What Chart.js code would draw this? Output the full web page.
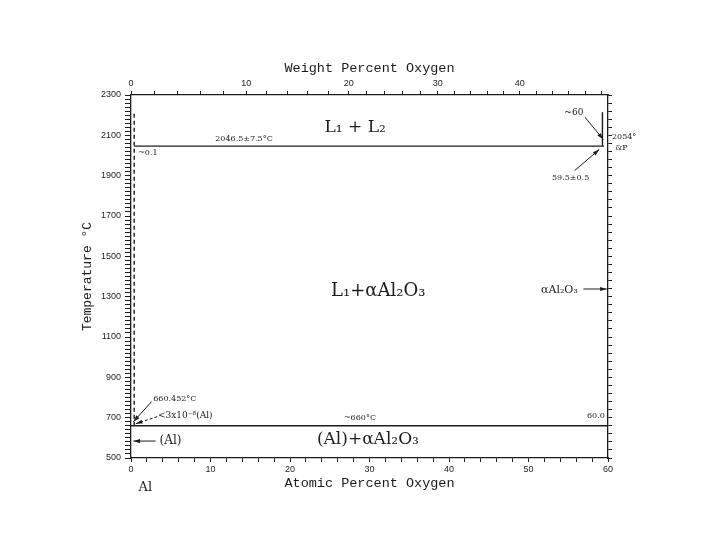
<!DOCTYPE html>
<html>
<head>
<meta charset="utf-8">
<script src="https://cdn.jsdelivr.net/npm/chart.js@4.4.0/dist/chart.umd.min.js"></script>
<style>
  html, body { margin: 0; padding: 0; background: #fff; }
  #wrap { width: 720px; height: 540px; }
</style>
</head>
<body>
<div id="wrap"><canvas id="phaseChart" width="720" height="540"></canvas></div>
<script>
// axis ticks
const atomicTicks = [0, 10, 20, 30, 40, 50, 60];
const tempTicks = [500, 700, 900, 1100, 1300, 1500, 1700, 1900, 2100, 2300];
const wtTickLabels = ['0', '10', '20', '30', '40'];
const wtTickAtPct = [0, 14.5, 27.4, 38.6, 48.9];   // where the wt% ticks sit on the at% scale

// phase boundaries (at% O, °C)
const monotecticX = [0.4, 59.5];
const monotecticT = [2046.5, 2046.5];
const eutecticX = [0, 60];
const eutecticT = [660, 660];
const solubilityX = [0.4, 0.4];
const solubilityT = [660, 2215];
const l2BoundaryX = [59.3, 59.3];
const l2BoundaryT = [2046.5, 2215];
const aluminaX = [60, 60];
const aluminaT = [500, 2054];

const INK = '#1c1c1c';
const SERIF = '"DejaVu Serif", "Liberation Serif", serif';
const MONO = '"Liberation Mono", "DejaVu Sans Mono", monospace';
const TICKFONT = { family: '"Liberation Sans", sans-serif', size: 9 };

function pts(xs, ts) {
  return xs.map((v, i) => ({ x: v, y: ts[i] }));
}

function lineSet(label, xs, ts, dash) {
  return {
    label: label,
    data: pts(xs, ts),
    showLine: true,
    borderColor: INK,
    borderWidth: 1.4,
    borderDash: dash || [],
    pointRadius: 0,
    fill: false
  };
}

// minor ticks between majors
function withMinors(majors, parts, extendTo) {
  const out = [];
  for (let i = 0; i < majors.length; i++) {
    out.push(majors[i]);
    let next = majors[i + 1];
    let step;
    if (next === undefined) {
      if (extendTo === undefined) break;
      step = (majors[i] - majors[i - 1]) / parts;
      for (let v = majors[i] + step; v <= extendTo + 1e-6; v += step) out.push(v);
      break;
    }
    step = (next - majors[i]) / parts;
    for (let k = 1; k < parts; k++) out.push(majors[i] + k * step);
  }
  return out;
}

const annotations = {
  id: 'annotations',
  beforeDraw(chart) {
    const ctx = chart.ctx;
    ctx.save();
    ctx.fillStyle = '#fff';
    ctx.fillRect(0, 0, chart.width, chart.height);
    ctx.restore();
  },
  afterDatasetsDraw(chart) {
    const { ctx, chartArea } = chart;
    const xs = chart.scales.x, ys = chart.scales.y;
    const px = v => xs.getPixelForValue(v);
    const py = v => ys.getPixelForValue(v);

    function text(str, xv, yv, size, align, family) {
      ctx.save();
      ctx.fillStyle = INK;
      ctx.font = size + 'px ' + (family || SERIF);
      ctx.textAlign = align || 'center';
      ctx.textBaseline = 'middle';
      ctx.fillText(str, px(xv), py(yv));
      ctx.restore();
    }
    function arrow(x1, y1, x2, y2, dashed) {
      const a = [px(x1), py(y1)], b = [px(x2), py(y2)];
      ctx.save();
      ctx.strokeStyle = INK;
      ctx.fillStyle = INK;
      ctx.lineWidth = 1;
      if (dashed) ctx.setLineDash([3, 2]);
      ctx.beginPath();
      ctx.moveTo(a[0], a[1]);
      ctx.lineTo(b[0], b[1]);
      ctx.stroke();
      ctx.setLineDash([]);
      const ang = Math.atan2(b[1] - a[1], b[0] - a[0]);
      ctx.beginPath();
      ctx.moveTo(b[0], b[1]);
      ctx.lineTo(b[0] - 7 * Math.cos(ang - 0.3), b[1] - 7 * Math.sin(ang - 0.3));
      ctx.lineTo(b[0] - 7 * Math.cos(ang + 0.3), b[1] - 7 * Math.sin(ang + 0.3));
      ctx.closePath();
      ctx.fill();
      ctx.restore();
    }

    // region labels
    text('L\u2081 + L\u2082', 28.2, 2136, 17);
    text('L\u2081+\u03b1Al\u2082O\u2083', 31.1, 1328, 18);
    text('(Al)+\u03b1Al\u2082O\u2083', 29.8, 589, 17);

    // invariant notes
    text('2046.5\u00b17.5\u00b0C', 10.6, 2082, 8, 'left');
    text('~0.1', 0.9, 2012, 8, 'left');
    text('~660\u00b0C', 28.8, 698, 8);
    text('60.0', 59.6, 708, 8, 'right');

    text('~60', 56.9, 2211, 9, 'right');
    arrow(57.1, 2190, 59.4, 2080);
    text('59.5\u00b10.5', 55.3, 1888, 8);
    arrow(55.8, 1925, 58.9, 2030);
    text('2054\u00b0', 60.5, 2092, 8, 'left');
    text('&P', 60.9, 2037, 8, 'left');

    text('\u03b1Al\u2082O\u2083', 56.2, 1330, 11, 'right');
    arrow(56.9, 1338, 59.85, 1338);

    text('660.452\u00b0C', 2.8, 793, 8, 'left');
    arrow(2.6, 780, 0.3, 680);
    text('<3x10\u207b\u2078(Al)', 3.4, 708, 9, 'left');
    arrow(3.3, 705, 0.6, 670, true);
    text('(Al)', 3.6, 584, 12, 'left');
    arrow(3.1, 584, 0.3, 584);

    ctx.save();
    ctx.fillStyle = INK;
    ctx.font = '13px ' + SERIF;
    ctx.textAlign = 'center';
    ctx.textBaseline = 'middle';
    ctx.fillText('Al', px(1.8), chartArea.bottom + 30);
    ctx.restore();
  }
};

const axisBase = {
  type: 'linear',
  grid: { drawOnChartArea: false, color: INK, tickLength: 4, tickWidth: 1 },
  border: { display: true, color: INK, width: 1.3 },
  ticks: { color: INK, font: TICKFONT, autoSkip: false, maxRotation: 0, padding: 2 }
};

new Chart(document.getElementById('phaseChart'), {
  type: 'scatter',
  data: {
    datasets: [
      lineSet('Monotectic', monotecticX, monotecticT),
      lineSet('Eutectic', eutecticX, eutecticT),
      lineSet('Solubility of O in liquid Al', solubilityX, solubilityT, [4, 3]),
      lineSet('L2 boundary', l2BoundaryX, l2BoundaryT),
      lineSet('Al2O3', aluminaX, aluminaT)
    ]
  },
  options: {
    responsive: false,
    animation: false,
    layout: { padding: 0 },
    plugins: { legend: { display: false }, tooltip: { enabled: false } },
    scales: {
      x: {
        ...axisBase,
        position: 'bottom',
        min: 0, max: 60,
        afterBuildTicks: s => { s.ticks = withMinors(atomicTicks, 5).map(v => ({ value: v })); },
        ticks: { ...axisBase.ticks, callback: v => atomicTicks.includes(v) ? String(v) : '' },
        afterFit: s => { s.height = 82; },
        title: { display: true, text: 'Atomic Percent Oxygen', color: INK,
                 font: { family: MONO, size: 13.5 }, padding: { bottom: 48 } }
      },
      x2: {
        ...axisBase,
        position: 'top',
        min: 0, max: 60,
        afterBuildTicks: s => { s.ticks = withMinors(wtTickAtPct, 5, 60).map(v => ({ value: v })); },
        ticks: { ...axisBase.ticks, callback: v => {
          const i = wtTickAtPct.indexOf(v);
          return i >= 0 ? wtTickLabels[i] : '';
        } },
        afterFit: s => { s.height = 95; },
        title: { display: true, text: 'Weight Percent Oxygen', color: INK,
                 font: { family: MONO, size: 13.5 }, padding: { top: 60 } }
      },
      y: {
        ...axisBase,
        position: 'left',
        min: 500, max: 2300,
        grid: { ...axisBase.grid, tickLength: 6 },
        afterBuildTicks: s => { s.ticks = withMinors(tempTicks, 10).map(v => ({ value: v })); },
        ticks: { ...axisBase.ticks, padding: 4, callback: v => tempTicks.includes(v) ? String(v) : '' },
        afterFit: s => { s.width = 131; },
        title: { display: true, text: 'Temperature \u00b0C', color: INK,
                 font: { family: MONO, size: 13 }, padding: { top: 80 } }
      },
      y2: {
        ...axisBase,
        position: 'right',
        min: 500, max: 2300,
        afterBuildTicks: s => { s.ticks = withMinors(tempTicks, 5).map(v => ({ value: v })); },
        ticks: { ...axisBase.ticks, callback: () => '' },
        afterFit: s => { s.width = 112; }
      }
    }
  },
  plugins: [annotations]
});
</script>
</body>
</html>
